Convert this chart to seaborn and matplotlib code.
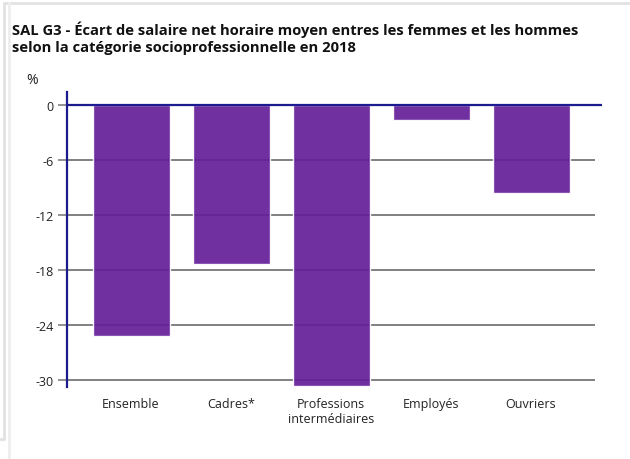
import numpy as np
import pandas as pd
import seaborn as sns
import matplotlib.pyplot as plt
from matplotlib.lines import Line2D

# values (%)
categories = ["Ensemble", "Cadres*", "Professions\nintermédiaires", "Employés", "Ouvriers"]
ecart = [-25.2, -17.3, -30.65, -1.65, -9.6]
yticks = [0, -6, -12, -18, -24, -30]

title = ("SAL G3 - Écart de salaire net horaire moyen entres les femmes et les hommes\n"
         "selon la catégorie socioprofessionnelle en 2018")

purple = "#641E98"   # drawn with alpha, looks like #7030A0 on white
navy = "#1B1B8F"
grid_grey = "#808080"

sns.set_theme(style="white")
plt.rcParams["font.family"] = ["Open Sans", "DejaVu Sans"]

df = pd.DataFrame({"cat": categories, "val": ecart})

fig = plt.figure(figsize=(6.3, 4.6), dpi=100)
ax = fig.add_axes([67 / 630, 1 - 388 / 460, (602 - 67) / 630, (388 - 93) / 460])

sns.barplot(data=df, x="cat", y="val", color=purple, saturation=1, width=0.77,
            alpha=0.92, ax=ax, zorder=3)

xmin, xmax = -0.64, 4.71
ax.set_xlim(xmin, xmax)
ax.set_ylim(-30.75, 1.41)

# grid lines under the see-through bars, zero line in navy
for t in yticks[1:]:
    ax.hlines(t, xmin, 4.64, color=grid_grey, lw=1.4, zorder=2)
ax.axhline(0, color=navy, lw=1.6, zorder=4)

ax.set_yticks(yticks)
ax.set_yticklabels([str(t) for t in yticks])
ax.tick_params(axis="y", length=6.5, width=1.2, color=grid_grey, pad=3,
               labelsize=9, labelcolor="#222222", left=True)
ax.tick_params(axis="x", length=0, pad=7, labelsize=9, labelcolor="#222222")

for s in ["top", "right", "bottom"]:
    ax.spines[s].set_visible(False)
ax.spines["left"].set_color(navy)
ax.spines["left"].set_linewidth(1.6)
ax.spines["left"].set_zorder(5)
ax.set_xlabel("")
ax.set_ylabel("")

fig.text(12 / 630, 1 - 22 / 460, title, fontsize=10.6, fontweight="bold",
         va="top", ha="left", color="#111111", linespacing=1.25)
fig.text(26 / 630, 1 - 80 / 460, "%", fontsize=10, va="center", ha="left", color="#222222")

# light frame of the page container
frame = "#e2e2e2"
fig.add_artist(Line2D([4 / 630, 1], [1 - 4 / 460, 1 - 4 / 460], color=frame, lw=2, transform=fig.transFigure))
fig.add_artist(Line2D([4 / 630, 4 / 630], [1 - 4 / 460, 1 - 440 / 460], color=frame, lw=2, transform=fig.transFigure))
fig.add_artist(Line2D([0, 4 / 630], [1 - 440 / 460, 1 - 440 / 460], color=frame, lw=2, transform=fig.transFigure))
fig.add_artist(Line2D([9 / 630, 9 / 630], [1 - 4 / 460, 0], color="#eeeeee", lw=2, transform=fig.transFigure))

fig.savefig("out.png", dpi=100)
